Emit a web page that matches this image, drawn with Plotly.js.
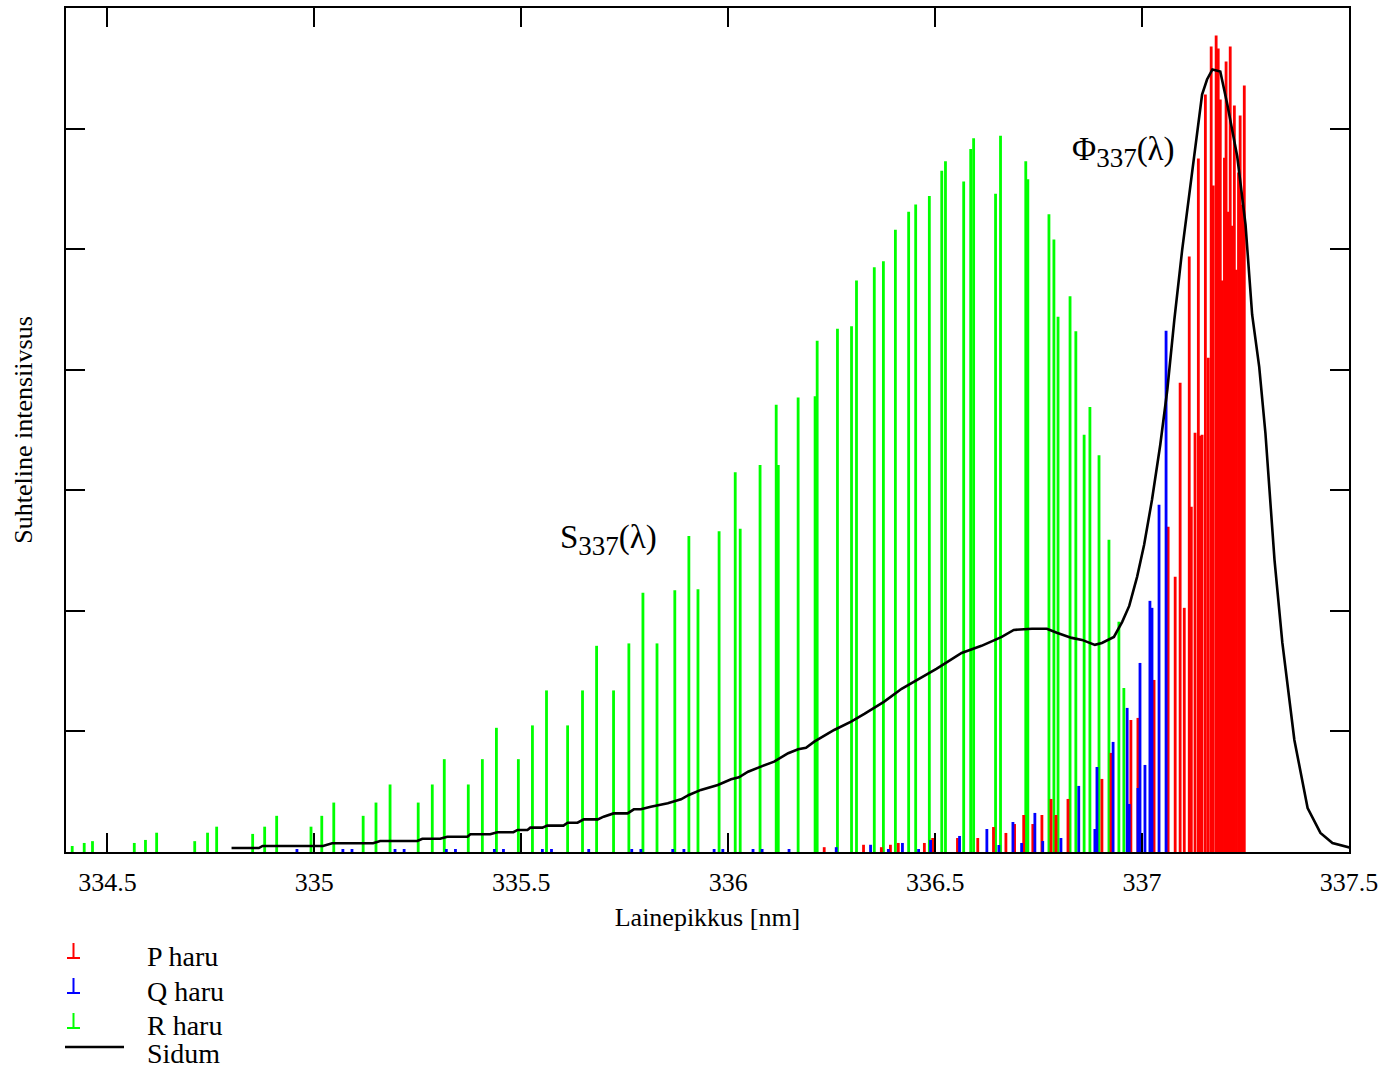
<!DOCTYPE html>
<html><head><meta charset="utf-8">
<script src="https://cdn.plot.ly/plotly-3.0.1.min.js"></script>
<style>html,body{margin:0;padding:0;background:#fff}</style>
</head><body><div id="chart" style="width:1399px;height:1069px"></div>
<script>
// R haru (green)
const rX = [334.415, 334.444, 334.464, 334.565, 334.592, 334.619, 334.711, 334.742, 334.764, 334.851, 334.880, 334.909, 334.992, 335.018, 335.047, 335.118, 335.149, 335.183, 335.251, 335.285, 335.314, 335.372, 335.406, 335.440, 335.493, 335.527, 335.561, 335.612, 335.648, 335.682, 335.723, 335.760, 335.794, 335.828, 335.871, 335.905, 335.927, 335.978, 336.017, 336.029, 336.077, 336.116, 336.121, 336.169, 336.210, 336.215, 336.264, 336.298, 336.310, 336.353, 336.375, 336.404, 336.436, 336.453, 336.486, 336.516, 336.525, 336.569, 336.586, 336.593, 336.646, 336.658, 336.719, 336.724, 336.775, 336.787, 336.797, 336.826, 336.840, 336.860, 336.874, 336.896, 336.920, 336.944, 336.956];
const rY = [0.05, 0.075, 0.09, 0.075, 0.10, 0.16, 0.09, 0.16, 0.21, 0.15, 0.21, 0.30, 0.21, 0.30, 0.41, 0.30, 0.41, 0.56, 0.41, 0.56, 0.77, 0.56, 0.77, 1.03, 0.77, 1.05, 1.34, 1.05, 1.34, 1.71, 1.34, 1.73, 2.15, 1.73, 2.17, 2.62, 2.18, 2.66, 3.15, 2.68, 3.21, 3.71, 3.21, 3.77, 3.78, 4.24, 4.34, 4.36, 4.74, 4.85, 4.90, 5.16, 5.31, 5.37, 5.44, 5.65, 5.73, 5.56, 5.83, 5.92, 5.46, 5.94, 5.73, 5.58, 5.29, 5.08, 4.44, 4.61, 4.32, 3.46, 3.69, 3.29, 2.59, 1.91, 1.36];
// P haru (red)
const pX = [336.232, 336.327, 336.370, 336.392, 336.411, 336.474, 336.494, 336.554, 336.603, 336.641, 336.671, 336.692, 336.714, 336.736, 336.758, 336.780, 336.792, 336.821, 336.903, 336.925, 336.973, 336.990, 337.029, 337.063, 337.080, 337.092, 337.102, 337.114, 337.119, 337.128, 337.136, 337.141, 337.145, 337.153, 337.160, 337.167, 337.172, 337.179, 337.184, 337.189, 337.194, 337.199, 337.203, 337.208, 337.213, 337.218, 337.223, 337.228, 337.233, 337.237, 337.242, 337.247];
const pY = [0.04, 0.06, 0.04, 0.06, 0.075, 0.075, 0.116, 0.116, 0.116, 0.207, 0.158, 0.232, 0.307, 0.232, 0.307, 0.44, 0.307, 0.44, 0.606, 0.822, 1.095, 1.112, 1.427, 2.697, 2.282, 3.892, 2.025, 4.938, 2.863, 3.477, 5.751, 3.452, 3.461, 6.282, 4.1, 6.68, 5.527, 6.772, 6.664, 6.241, 4.739, 5.759, 6.556, 5.311, 6.68, 5.195, 6.191, 4.83, 5.635, 6.108, 5.369, 6.357];
// Q haru (blue)
const qX = [334.958, 335.069, 335.091, 335.195, 335.217, 335.319, 335.341, 335.435, 335.457, 335.551, 335.573, 335.663, 335.767, 335.789, 335.866, 335.893, 335.966, 335.987, 336.060, 336.082, 336.147, 336.261, 336.344, 336.387, 336.421, 336.460, 336.489, 336.559, 336.625, 336.654, 336.688, 336.709, 336.741, 336.760, 336.804, 336.847, 336.886, 336.891, 336.930, 336.964, 336.969, 336.990, 336.995, 337.007, 337.019, 337.024, 337.041, 337.058];
const qY = [0.025, 0.025, 0.025, 0.025, 0.025, 0.025, 0.025, 0.025, 0.025, 0.025, 0.025, 0.025, 0.025, 0.025, 0.025, 0.025, 0.025, 0.025, 0.025, 0.025, 0.025, 0.04, 0.06, 0.025, 0.075, 0.025, 0.10, 0.133, 0.191, 0.058, 0.249, 0.075, 0.324, 0.091, 0.116, 0.548, 0.191, 0.705, 0.913, 1.195, 0.398, 0.531, 1.568, 0.722, 2.083, 2.025, 2.880, 4.324];
// Sidum (black curve)
const sX = [334.800, 334.866, 334.875, 335.021, 335.043, 335.142, 335.159, 335.249, 335.261, 335.304, 335.321, 335.370, 335.377, 335.425, 335.442, 335.481, 335.491, 335.515, 335.522, 335.551, 335.563, 335.602, 335.612, 335.636, 335.651, 335.685, 335.699, 335.723, 335.757, 335.772, 335.789, 335.813, 335.854, 335.886, 335.905, 335.934, 335.975, 336.007, 336.026, 336.048, 336.079, 336.111, 336.145, 336.169, 336.188, 336.208, 336.256, 336.297, 336.329, 336.377, 336.419, 336.467, 336.503, 336.564, 336.612, 336.661, 336.690, 336.734, 336.770, 336.794, 336.830, 336.855, 336.886, 336.903, 336.932, 336.952, 336.969, 336.988, 337.005, 337.024, 337.044, 337.061, 337.078, 337.097, 337.121, 337.145, 337.157, 337.170, 337.189, 337.206, 337.230, 337.250, 337.266, 337.283, 337.298, 337.320, 337.339, 337.368, 337.400, 337.431, 337.460, 337.506];
const sY = [0.033, 0.033, 0.05, 0.05, 0.072, 0.072, 0.091, 0.091, 0.11, 0.11, 0.127, 0.127, 0.147, 0.147, 0.164, 0.164, 0.183, 0.183, 0.202, 0.202, 0.219, 0.219, 0.243, 0.243, 0.271, 0.271, 0.293, 0.32, 0.32, 0.354, 0.354, 0.376, 0.404, 0.437, 0.473, 0.515, 0.556, 0.603, 0.62, 0.666, 0.708, 0.749, 0.819, 0.852, 0.865, 0.915, 1.012, 1.081, 1.145, 1.247, 1.354, 1.448, 1.519, 1.651, 1.71, 1.784, 1.842, 1.851, 1.851, 1.818, 1.776, 1.759, 1.718, 1.734, 1.784, 1.909, 2.041, 2.282, 2.548, 2.921, 3.378, 3.834, 4.415, 4.996, 5.643, 6.282, 6.407, 6.49, 6.473, 6.199, 5.768, 5.203, 4.456, 4.025, 3.477, 2.423, 1.734, 0.929, 0.365, 0.158, 0.075, 0.033];
// tick labels
const xTickVals = [334.5, 335, 335.5, 336, 336.5, 337, 337.5];
const xTickText = ['334.5', '335', '335.5', '336', '336.5', '337', '337.5'];
const legendNames = ['P haru', 'Q haru', 'R haru', 'Sidum'];

const FONT = 'Liberation Serif, Times New Roman, serif';
const L = 66, R = 1349, T = 8, B = 852;
const xp = px => (px - L) / (R - L);
const yp = py => (B - py) / (B - T);
const BW = 0.0068;

function sticks(x, y, color, name) {
  return {type: 'bar', x: x, y: y, width: x.map(() => BW), name: name,
    marker: {color: color, line: {width: 0}}, hoverinfo: 'x+y', showlegend: false};
}
const data = [
  sticks(rX, rY, '#00ff00', legendNames[2]),
  sticks(pX, pY, '#ff0000', legendNames[0]),
  sticks(qX, qY, '#0000ff', legendNames[1]),
  {type: 'scatter', mode: 'lines', x: sX, y: sY, name: legendNames[3],
   line: {color: '#000', width: 2.6}, showlegend: false}
];

const axisCommon = {ticks: 'inside', ticklen: 19, tickwidth: 2, tickcolor: '#000',
  showline: true, linecolor: '#000', linewidth: 2, mirror: 'ticks',
  showgrid: false, zeroline: false};

const annotations = [
  {xref: 'paper', yref: 'paper', x: xp(558), y: yp(540), xanchor: 'left', yanchor: 'middle',
   text: 'S<sub><span style="font-size:27px">337</span></sub>(λ)', showarrow: false, font: {family: FONT, size: 33, color: '#000'}},
  {xref: 'paper', yref: 'paper', x: xp(1070), y: yp(152), xanchor: 'left', yanchor: 'middle',
   text: 'Φ<sub><span style="font-size:27px">337</span></sub>(λ)', showarrow: false, font: {family: FONT, size: 33, color: '#000'}}
];
const legRows = [956, 991, 1025, 1053];
legendNames.forEach((n, i) => {
  annotations.push({xref: 'paper', yref: 'paper', x: xp(145), y: yp(legRows[i]), xanchor: 'left', yanchor: 'middle',
    text: n, showarrow: false, font: {family: FONT, size: 28, color: '#000'}});
});
const legColors = ['#ff0000', '#0000ff', '#00ff00'];
const shapes = [];
const symTop = [943, 978, 1013];
legColors.forEach((c, i) => {
  shapes.push({type: 'line', xref: 'paper', yref: 'paper', x0: xp(73.5), x1: xp(73.5), y0: yp(symTop[i]), y1: yp(symTop[i] + 15), line: {color: c, width: 2}});
  shapes.push({type: 'line', xref: 'paper', yref: 'paper', x0: xp(67), x1: xp(80), y0: yp(symTop[i] + 15), y1: yp(symTop[i] + 15), line: {color: c, width: 2}});
});
shapes.push({type: 'line', xref: 'paper', yref: 'paper', x0: xp(65), x1: xp(124), y0: yp(1047), y1: yp(1047), line: {color: '#000', width: 2.6}});

const layout = {
  width: 1399, height: 1069,
  margin: {l: 66, r: 50, t: 8, b: 217},
  paper_bgcolor: '#fff', plot_bgcolor: '#fff',
  barmode: 'overlay', showlegend: false,
  font: {family: FONT, color: '#000'},
  xaxis: Object.assign({}, axisCommon, {
    range: [334.4, 337.5], tickvals: xTickVals, ticktext: xTickText,
    tickfont: {family: FONT, size: 26, color: '#000'}, ticklabelstandoff: 6,
    title: {text: 'Lainepikkus [nm]', font: {family: FONT, size: 26, color: '#000'}, standoff: 12}
  }),
  yaxis: Object.assign({}, axisCommon, {
    range: [0, 7], tick0: 0, dtick: 1, showticklabels: false,
    title: {text: 'Suhteline intensiivsus', font: {family: FONT, size: 26, color: '#000'}, standoff: 24}
  }),
  annotations: annotations, shapes: shapes
};
Plotly.newPlot('chart', data, layout, {displayModeBar: false, staticPlot: true});
</script></body></html>
